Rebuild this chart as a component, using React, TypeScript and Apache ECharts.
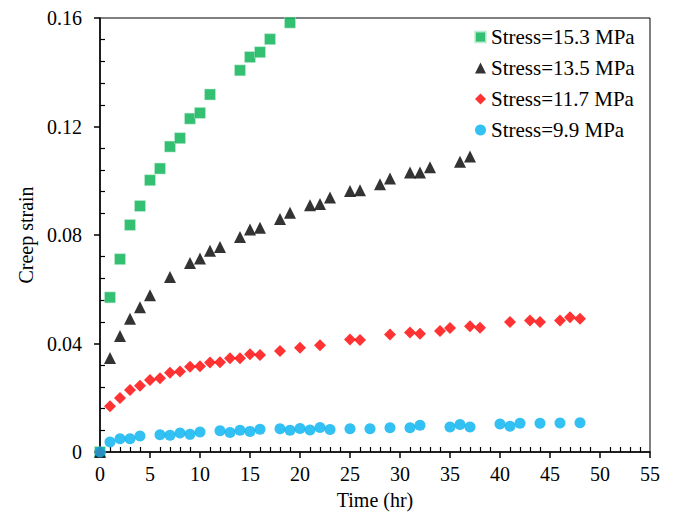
import React, { useEffect, useRef } from "react";
import * as echarts from "echarts";

const seriesNames = ["Stress=15.3 MPa", "Stress=13.5 MPa", "Stress=11.7 MPa", "Stress=9.9 MPa"];

const t153 = [0, 1, 2, 3, 4, 5, 6, 7, 8, 9, 10, 11, 14, 15, 16, 17, 19];
const s153 = [0, 0.057, 0.0711, 0.0837, 0.0907, 0.1002, 0.1045, 0.1126, 0.1157, 0.1229, 0.125, 0.1318, 0.1407, 0.1456, 0.1474, 0.1522, 0.1583];

const t135 = [0, 1, 2, 3, 4, 5, 7, 9, 10, 11, 12, 14, 15, 16, 18, 19, 21, 22, 23, 25, 26, 28, 29, 31, 32, 33, 36, 37];
const s135 = [0, 0.0347, 0.0428, 0.0491, 0.0534, 0.0578, 0.0645, 0.0697, 0.0713, 0.0742, 0.0756, 0.0793, 0.082, 0.0827, 0.0859, 0.0882, 0.091, 0.0914, 0.0938, 0.0962, 0.0965, 0.0987, 0.1008, 0.103, 0.103, 0.105, 0.107, 0.1089];

const t117 = [0, 1, 2, 3, 4, 5, 6, 7, 8, 9, 10, 11, 12, 13, 14, 15, 16, 18, 20, 22, 25, 26, 29, 31, 32, 34, 35, 37, 38, 41, 43, 44, 46, 47, 48];
const s117 = [0, 0.0169, 0.0199, 0.0229, 0.0244, 0.0265, 0.0272, 0.0292, 0.0297, 0.0314, 0.0316, 0.033, 0.0331, 0.0346, 0.0346, 0.036, 0.0358, 0.0372, 0.0384, 0.0394, 0.0415, 0.0413, 0.0433, 0.0441, 0.0436, 0.0446, 0.0457, 0.0464, 0.0458, 0.0479, 0.0485, 0.0479, 0.0485, 0.0497, 0.0491];

const t99 = [0, 1, 2, 3, 4, 6, 7, 8, 9, 10, 12, 13, 14, 15, 16, 18, 19, 20, 21, 22, 23, 25, 27, 29, 31, 32, 35, 36, 37, 40, 41, 42, 44, 46, 48];
const s99 = [0, 0.0037, 0.0049, 0.0049, 0.0059, 0.0064, 0.0062, 0.007, 0.0065, 0.0074, 0.0078, 0.0072, 0.008, 0.0076, 0.0084, 0.0086, 0.008, 0.0087, 0.0081, 0.009, 0.0083, 0.0086, 0.0086, 0.0089, 0.0089, 0.0099, 0.0092, 0.0101, 0.0092, 0.0103, 0.0095, 0.0106, 0.0106, 0.0107, 0.0108];

const FONT = "Liberation Serif";

function pairs(t: number[], s: number[]) {
  return t.map((x, i) => [x, s[i]]);
}

export default function App() {
  const ref = useRef<HTMLDivElement>(null);
  useEffect(() => {
    if (!ref.current) return;
    const chart = echarts.init(ref.current, undefined, { renderer: "svg" });
    const baseX = {
      type: "value" as const,
      min: 0,
      max: 55,
      interval: 5,
    };
    const baseY = {
      type: "value" as const,
      min: 0,
      max: 0.16,
      interval: 0.04,
    };
    const txt = (size: number) => ({
      fontFamily: FONT,
      fontSize: size,
      fontWeight: "normal" as const,
      fontStyle: "normal" as const,
      color: "#000",
    });
    chart.setOption({
      animation: false,
      backgroundColor: "#fff",
      textStyle: { fontFamily: FONT, color: "#000" },
      grid: {
        left: 100,
        right: 27,
        top: 18,
        bottom: 66,
        show: true,
        borderColor: "#000",
        borderWidth: 1,
        backgroundColor: "transparent",
      },
      legend: {
        orient: "vertical",
        left: 469,
        top: 21,
        itemWidth: 11,
        itemHeight: 11,
        itemGap: 9,
        textStyle: { ...txt(21), lineHeight: 22 },
        data: [
          { name: seriesNames[0], icon: "rect" },
          { name: seriesNames[1], icon: "triangle" },
          { name: seriesNames[2], icon: "diamond" },
          { name: seriesNames[3], icon: "circle" },
        ],
      },
      xAxis: [
        {
          ...baseX,
          name: "Time (hr)",
          nameLocation: "middle",
          nameGap: 38,
          nameTextStyle: txt(20),
          axisLine: { show: true, lineStyle: { color: "#000", width: 1.5 } },
          axisTick: { show: true, inside: false, length: 6, lineStyle: { color: "#000", width: 1.5 } },
          minorTick: { show: false },
          axisLabel: { ...txt(20), margin: 12 },
          splitLine: { show: false },
        },
        {
          ...baseX,
          position: "bottom",
          axisLine: { show: false },
          axisTick: { show: false, inside: true },
          minorTick: { show: true, splitNumber: 5, length: 5, lineStyle: { color: "#000", width: 1.2 } },
          axisLabel: { show: false },
          splitLine: { show: false },
          minorSplitLine: { show: false },
        },
      ],
      yAxis: [
        {
          ...baseY,
          name: "Creep strain",
          nameLocation: "middle",
          nameGap: 62,
          nameTextStyle: txt(20),
          axisLine: { show: true, lineStyle: { color: "#000", width: 1.5 } },
          axisTick: { show: true, inside: false, length: 6, lineStyle: { color: "#000", width: 1.5 } },
          minorTick: { show: false },
          axisLabel: {
            ...txt(20),
            margin: 18,
            formatter: (v: number) => (v === 0 ? "0" : v.toFixed(2)),
          },
          splitLine: { show: false },
        },
        {
          ...baseY,
          position: "left",
          axisLine: { show: false },
          axisTick: { show: false, inside: true },
          minorTick: { show: true, splitNumber: 5, length: 5, lineStyle: { color: "#000", width: 1.2 } },
          axisLabel: { show: false },
          splitLine: { show: false },
          minorSplitLine: { show: false },
        },
      ],
      series: [
        {
          name: seriesNames[0],
          type: "scatter",
          symbol: "rect",
          symbolSize: 11,
          itemStyle: { color: "#00B050", borderColor: "#C8EED8", borderWidth: 0.6 },
          data: pairs(t153, s153),
        },
        {
          name: seriesNames[1],
          type: "scatter",
          symbol: "triangle",
          symbolSize: 12,
          itemStyle: { color: "#000" },
          data: pairs(t135, s135),
        },
        {
          name: seriesNames[2],
          type: "scatter",
          symbol: "diamond",
          symbolSize: 12,
          itemStyle: { color: "#FF0000" },
          data: pairs(t117, s117),
        },
        {
          name: seriesNames[3],
          type: "scatter",
          symbol: "circle",
          symbolSize: 11,
          itemStyle: { color: "#00B0F0" },
          data: pairs(t99, s99),
        },
      ],
    });
    return () => chart.dispose();
  }, []);
  return <div ref={ref} style={{ position: "fixed", left: 0, top: 0, width: 677, height: 518 }} />;
}
